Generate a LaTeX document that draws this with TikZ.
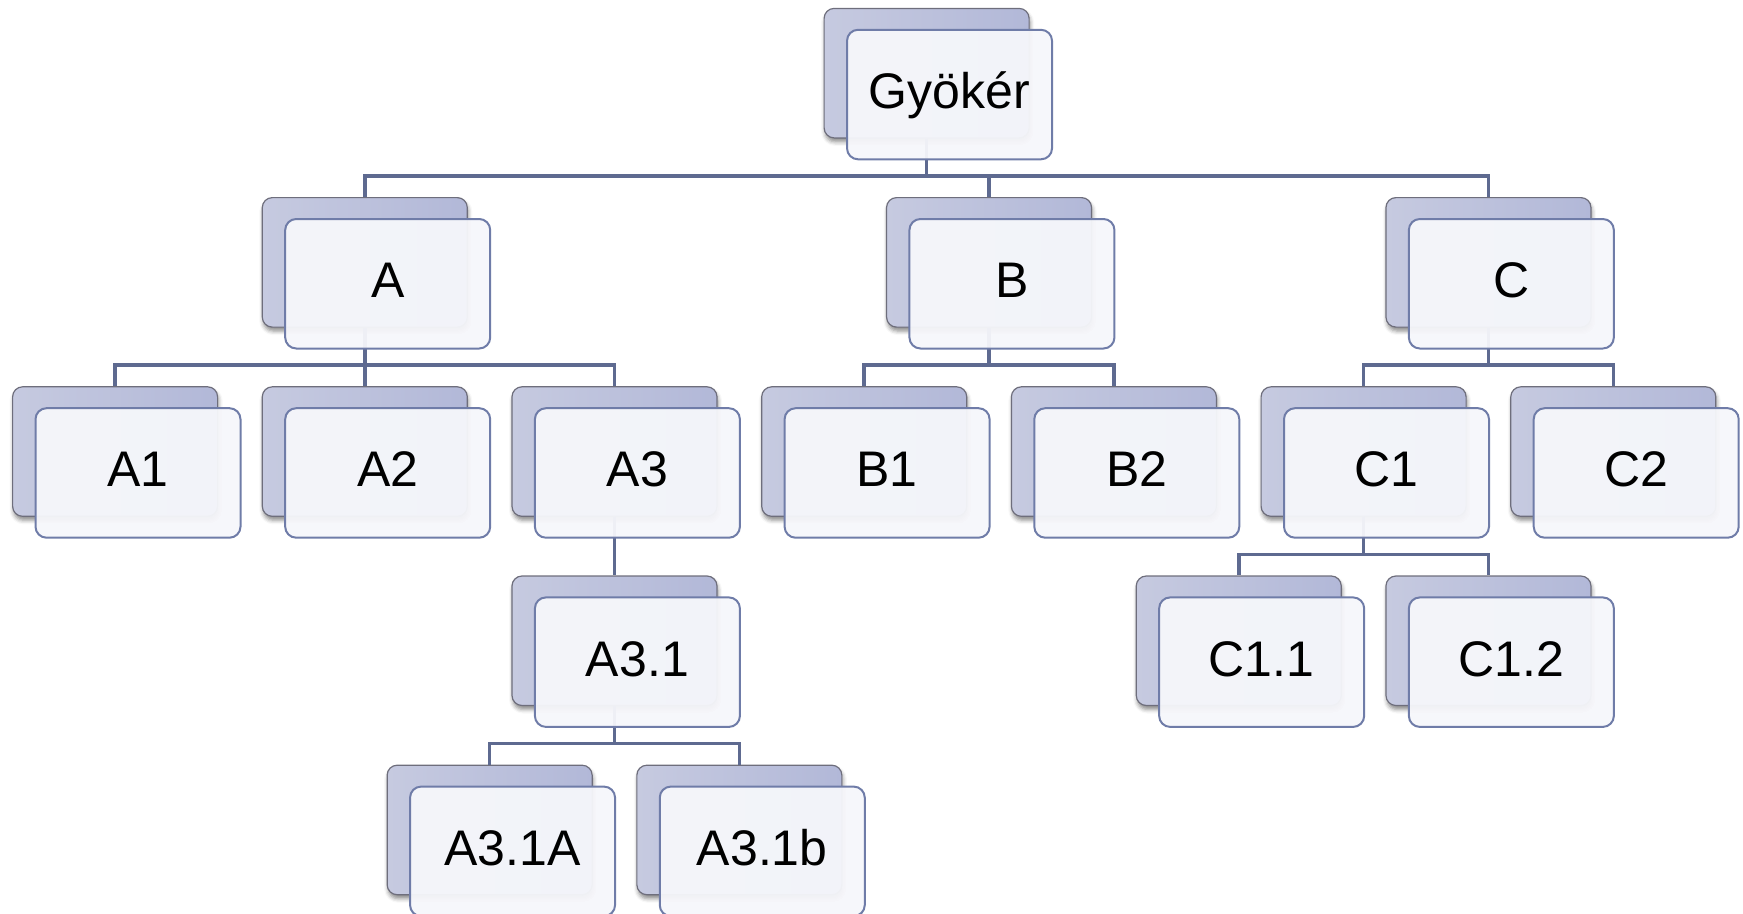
\documentclass[tikz,border=0pt]{standalone}
\usepackage{fontspec}
\setmainfont{Liberation Sans}
\usetikzlibrary{shadows.blur}

\definecolor{backL}{HTML}{C6CAE0}
\definecolor{backM}{HTML}{A4ACD2}
\definecolor{backR}{HTML}{B2B8D8}
\definecolor{backLine}{HTML}{6E6E7C}
\definecolor{frontFill}{HTML}{F6F7FB}
\definecolor{frontLine}{HTML}{6F7CA8}
\definecolor{linkLine}{HTML}{5E6A90}

\tikzset{
  backbox/.style={draw=backLine, line width=1.2pt, rounded corners=10pt,
    left color=backL, middle color=backM, right color=backR,
    minimum width=205pt, minimum height=129.5pt, anchor=north west, inner sep=0pt,
    blur shadow={shadow xshift=1pt, shadow yshift=-4pt, shadow blur radius=4pt, shadow opacity=45}},
  frontbox/.style={draw=frontLine, line width=2pt, rounded corners=11pt,
    fill=frontFill, fill opacity=0.95, text opacity=1,
    minimum width=205pt, minimum height=129.5pt, anchor=north west, inner sep=0pt,
    font=\fontsize{50}{60}\selectfont, text height=28pt, text depth=0pt},
  link/.style={draw=linkLine, line width=3.5pt}
}

\begin{document}
\begin{tikzpicture}[x=1pt, y=-1pt]
\useasboundingbox (0,0) rectangle (1743,913);

% shaded back plates (column / row on a 249.7 x 189.2 grid)
\foreach \n/\c/\r in {root/3.25/0, a/1/1, b/3.5/1, c/5.5/1,
    a1/0/2, a2/1/2, a3/2/2, b1/3/2, b2/4/2, c1/5/2, c2/6/2,
    a31/2/3, c11/4.5/3, c12/5.5/3, a31a/1.5/4, a31b/2.5/4}
  \node[backbox] (\n-b) at ({12+\c*249.7},{7.8+\r*189.2}) {};

% tree connectors
\foreach \p/\k in {root/a, root/b, root/c, a/a1, a/a2, a/a3, b/b1, b/b2,
    c/c1, c/c2, a3/a31, c1/c11, c1/c12, a31/a31a, a31/a31b}
  \draw[link] (\p-b.south) |- ([yshift=21pt]\k-b.north) -- (\k-b.north);

% translucent front cards with the labels
\foreach \n/\c/\r/\t in {root/3.25/0/Gyökér, a/1/1/A, b/3.5/1/B, c/5.5/1/C,
    a1/0/2/A1, a2/1/2/A2, a3/2/2/A3, b1/3/2/B1, b2/4/2/B2, c1/5/2/C1, c2/6/2/C2,
    a31/2/3/A3.1, c11/4.5/3/C1.1, c12/5.5/3/C1.2, a31a/1.5/4/A3.1A, a31b/2.5/4/A3.1b}
  \node[frontbox] (\n) at ({34.5+\c*249.7},{28.8+\r*189.2}) {\t};
\end{tikzpicture}
\end{document}
